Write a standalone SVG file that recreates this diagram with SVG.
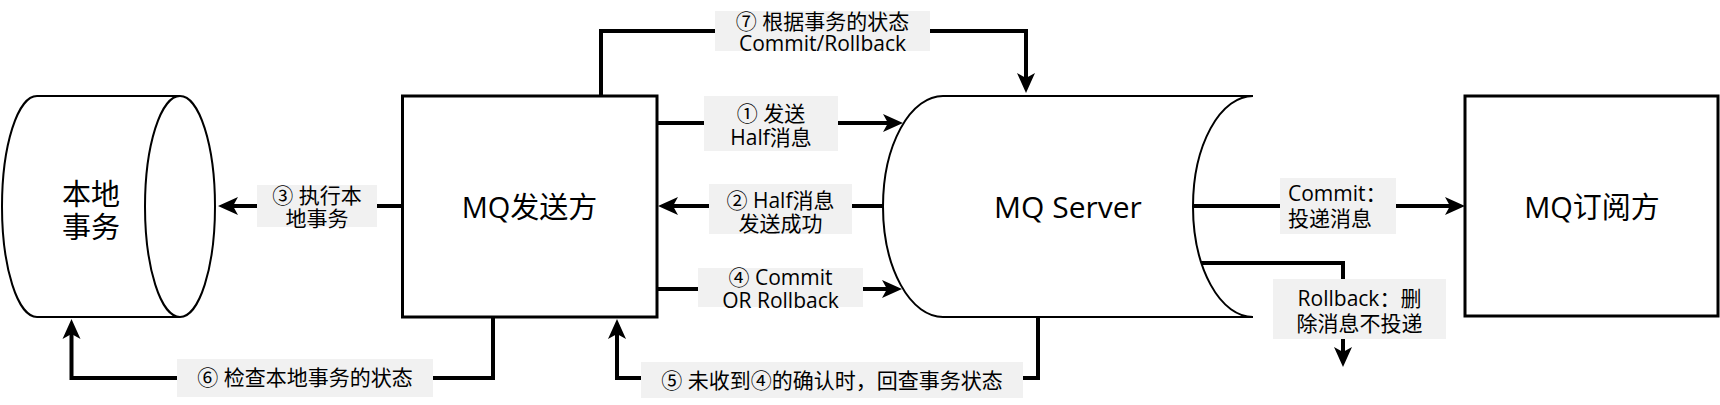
<svg xmlns="http://www.w3.org/2000/svg" width="1720" height="405" viewBox="0 0 1720 405">
<style>
.node{fill:#fff;stroke:#000}
.nt{font-family:"Open Sans","Noto Sans CJK SC",sans-serif;font-size:29px;fill:#000;text-anchor:middle;dominant-baseline:central}
.edge{fill:none;stroke:#000;stroke-width:4;marker-end:url(#arr)}
.lb{fill:#f1f1f1;stroke:none}
.lt{font-family:"Open Sans","Noto Sans CJK SC",sans-serif;font-size:21px;fill:#000;text-anchor:middle;dominant-baseline:central}
</style>
<defs>
<marker id="arr" markerUnits="userSpaceOnUse" markerWidth="20" markerHeight="18" refX="7" refY="9" orient="auto" overflow="visible">
<path d="M0,0 L20,9 L0,18 L5,9 Z" fill="#000"/>
</marker>
</defs>
<rect width="1720" height="405" fill="#fff"/>

<g id="connectors">
<g id="e1"><path class="edge" d="M657,123 H890"/><rect class="lb" x="704" y="96" width="134" height="55"/><text class="lt"><tspan x="771" y="113">① 发送</tspan><tspan x="771" y="137">Half消息</tspan></text></g>
<g id="e2"><path class="edge" d="M883,206 H671"/><rect class="lb" x="709" y="184" width="143" height="50"/><text class="lt"><tspan x="780.5" y="200">② Half消息</tspan><tspan x="780.5" y="223">发送成功</tspan></text></g>
<g id="e3"><path class="edge" d="M402,206 H231"/><rect class="lb" x="257" y="185" width="120" height="42"/><text class="lt"><tspan x="317" y="195">③ 执行本</tspan><tspan x="317" y="218">地事务</tspan></text></g>
<g id="e4"><path class="edge" d="M657,289 H889"/><rect class="lb" x="698" y="268" width="165" height="39"/><text class="lt"><tspan x="780.5" y="277">④ Commit</tspan><tspan x="780.5" y="300">OR Rollback</tspan></text></g>
<g id="e5"><path class="edge" d="M1038,317 V378 H617 V332"/><rect class="lb" x="641" y="362" width="382" height="36"/><text class="lt" x="832" y="380">⑤ 未收到④的确认时，回查事务状态</text></g>
<g id="e6"><path class="edge" d="M493,317 V378 H71.5 V332"/><rect class="lb" x="177" y="359" width="256" height="38"/><text class="lt" x="305" y="377">⑥ 检查本地事务的状态</text></g>
<g id="e7"><path class="edge" d="M601,96 V31 H1026 V80"/><rect class="lb" x="715" y="11" width="215" height="40"/><text class="lt"><tspan x="822.5" y="21">⑦ 根据事务的状态</tspan><tspan x="822.5" y="43">Commit/Rollback</tspan></text></g>
<g id="e8"><path class="edge" d="M1193,206 H1452"/><rect class="lb" x="1280" y="178" width="116" height="56"/><text class="lt" style="text-anchor:start"><tspan x="1288" y="193">Commit：</tspan><tspan x="1288" y="218">投递消息</tspan></text></g>
<g id="e9"><path class="edge" d="M1201,263 H1343 V354"/><rect class="lb" x="1273" y="279" width="173" height="60"/><text class="lt"><tspan x="1359.5" y="298">Rollback：删</tspan><tspan x="1359.5" y="323">除消息不投递</tspan></text></g>
</g>

<g id="n-local">
<path class="node" stroke-width="2" d="M180,96 H37 A35,110.5 0 0 0 37,317 H180"/>
<ellipse class="node" stroke-width="2" cx="180" cy="206.5" rx="35" ry="110.5"/>
<text class="nt"><tspan x="91" y="193">本地</tspan><tspan x="91" y="226">事务</tspan></text>
</g>

<g id="n-producer">
<rect class="node" stroke-width="3" x="402.5" y="96" width="254.5" height="221"/>
<text class="nt" x="529.5" y="206.5">MQ发送方</text>
</g>

<g id="n-server">
<path class="node" stroke-width="2" d="M1253,96 H943 A60,110.5 0 0 0 943,317 H1253 A60,110.5 0 0 1 1253,96"/>
<text class="nt" x="1068" y="206.5" style="font-size:30px">MQ Server</text>
</g>

<g id="n-consumer">
<rect class="node" stroke-width="3" x="1465" y="96" width="253" height="220"/>
<text class="nt" x="1592" y="206.5">MQ订阅方</text>
</g>
</svg>
